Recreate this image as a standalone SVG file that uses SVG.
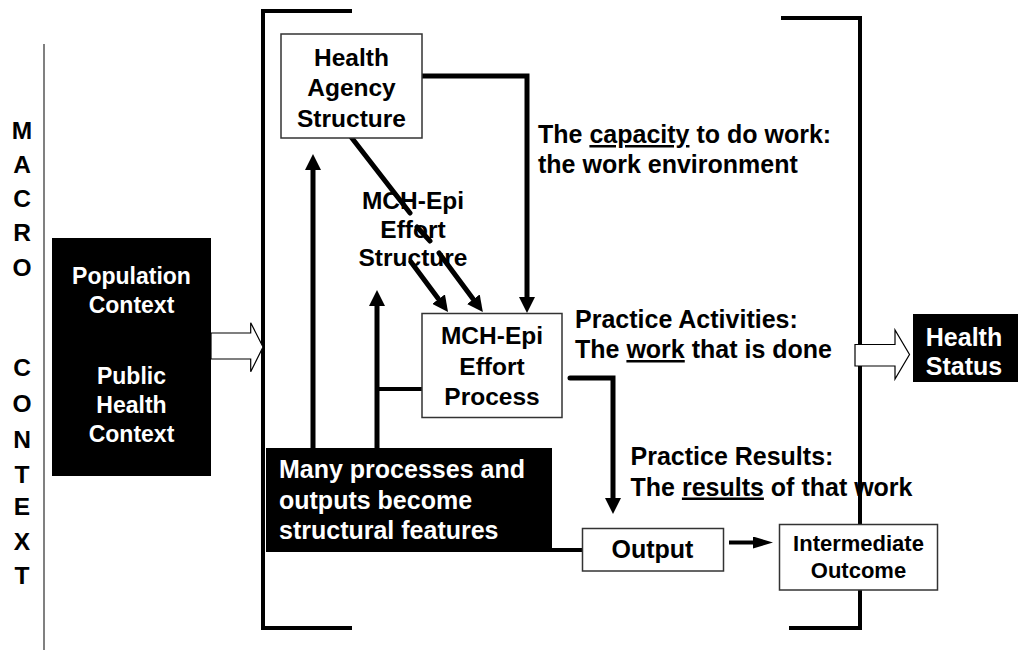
<svg xmlns="http://www.w3.org/2000/svg" width="1018" height="650" viewBox="0 0 1018 650">
  <style>
    text { font-family: "Liberation Sans", Arial, sans-serif; font-weight: bold; fill: #000; }
    .t25 { font-size: 25px; }
    .t24 { font-size: 24.5px; }
    .t23 { font-size: 23px; }
    .t22 { font-size: 22px; }
    .mid { text-anchor: middle; }
    .inv { fill: #fff; }
    .box { fill: #fff; stroke: #333; stroke-width: 1.5; }
    .blk { fill: #000; stroke: none; }
    .bracket { fill: none; stroke: #000; stroke-width: 4; }
    .conn { fill: none; stroke: #000; stroke-width: 5; stroke-linecap: round; stroke-linejoin: miter; }
    .thin { fill: none; stroke: #000; stroke-width: 4; }
    .hollow { fill: #fff; stroke: #000; stroke-width: 1.2; }
    .u { text-decoration: underline; }
  </style>
  <defs>
    <marker id="head" viewBox="0 -8 16 16" refX="0" refY="0" markerWidth="16" markerHeight="16" markerUnits="userSpaceOnUse" orient="auto">
      <path d="M0,-8 L16,0 L0,8 z" fill="#000"/>
    </marker>
    <marker id="headLong" viewBox="0 -6 20 12" refX="0" refY="0" markerWidth="20" markerHeight="12" markerUnits="userSpaceOnUse" orient="auto">
      <path d="M0,-6 L20,0 L0,6 z" fill="#000"/>
    </marker>
  </defs>

  <!-- macro context axis -->
  <g id="macro-context">
    <line x1="44" y1="44" x2="44" y2="650" stroke="#808080" stroke-width="2"/>
    <g class="t24 mid">
      <text x="22" y="139">M</text>
      <text x="22" y="173">A</text>
      <text x="22" y="207">C</text>
      <text x="22" y="241">R</text>
      <text x="22" y="276">O</text>
      <text x="22" y="376">C</text>
      <text x="22" y="412">O</text>
      <text x="22" y="448">N</text>
      <text x="22" y="483">T</text>
      <text x="22" y="515">E</text>
      <text x="22" y="550">X</text>
      <text x="22" y="584">T</text>
    </g>
  </g>

  <!-- brackets around the agency -->
  <g id="brackets">
    <path class="bracket" d="M352,11 H263 V628 H352"/>
    <path class="bracket" d="M781,18 H860 V628 H789"/>
  </g>

  <g id="population-context">
    <rect class="blk" x="52" y="238" width="159" height="238"/>
    <g class="t23 mid inv">
      <text class="inv" x="131.5" y="284">Population</text>
      <text class="inv" x="131.5" y="313">Context</text>
      <text class="inv" x="131.5" y="384">Public</text>
      <text class="inv" x="131.5" y="413">Health</text>
      <text class="inv" x="131.5" y="442">Context</text>
    </g>
  </g>

  <!-- connectors -->
  <g id="connectors">
    <polygon class="hollow" points="211,333 250.7,333 250.7,322.7 263,347 250.7,371.7 250.7,359 211,359"/>
    <path class="conn" d="M421,76 H527 V297" marker-end="url(#head)"/>
    <path class="conn" d="M341,124 L410,213 M417,227 L430,241 M439,253 L473.3,299.2" marker-end="url(#head)"/>
    <path class="conn" d="M411,262 L438.5,299.1" marker-end="url(#head)"/>
    <path class="conn" d="M313,448 V170" marker-end="url(#head)"/>
    <path class="conn" d="M377,448 V306" marker-end="url(#head)"/>
    <path class="thin" d="M422,389 H377"/>
    <path class="conn" d="M570,378 H613 V498" marker-end="url(#head)"/>
    <path class="thin" d="M552,550 H582"/>
    <path class="thin" d="M729,542.5 H753" marker-end="url(#headLong)"/>
    <polygon class="hollow" points="855,344.5 895,344.5 895,330 909.5,354.5 895,379 895,366 855,366"/>
  </g>

  <g id="health-agency-structure">
    <rect class="box" x="281" y="34" width="141" height="104"/>
    <g class="t24 mid">
      <text x="351.5" y="66">Health</text>
      <text x="351.5" y="96">Agency</text>
      <text x="351.5" y="127">Structure</text>
    </g>
  </g>

  <g id="effort-structure">
    <g class="t24 mid">
      <text x="413" y="209">MCH-Epi</text>
      <text x="413" y="238">Effort</text>
      <text x="413" y="266">Structure</text>
    </g>
  </g>

  <g id="effort-process">
    <rect class="box" x="422" y="313.5" width="140" height="104"/>
    <g class="t24 mid">
      <text x="492" y="344">MCH-Epi</text>
      <text x="492" y="375">Effort</text>
      <text x="492" y="405">Process</text>
    </g>
  </g>

  <g id="structural-features">
    <rect class="blk" x="266" y="448" width="286" height="104"/>
    <g class="t25">
      <text class="inv" x="279" y="478">Many processes and</text>
      <text class="inv" x="279" y="509">outputs become</text>
      <text class="inv" x="279" y="539">structural features</text>
    </g>
  </g>

  <g id="output">
    <rect class="box" x="582.5" y="528.5" width="141" height="42.5"/>
    <text class="t25 mid" x="652.5" y="558">Output</text>
  </g>

  <g id="intermediate-outcome">
    <rect class="box" x="779.5" y="524.5" width="158" height="65.5"/>
    <g class="t22 mid">
      <text x="858.5" y="551">Intermediate</text>
      <text x="858.5" y="578">Outcome</text>
    </g>
  </g>

  <g id="health-status">
    <rect class="blk" x="913" y="314" width="105" height="68"/>
    <g class="t25 mid">
      <text class="inv" x="964" y="346">Health</text>
      <text class="inv" x="964" y="375">Status</text>
    </g>
  </g>

  <g id="capacity-label" class="t25">
    <text x="538" y="143">The <tspan class="u">capacity</tspan> to do work:</text>
    <text x="538" y="172.5">the work environment</text>
  </g>

  <g id="activities-label" class="t25">
    <text x="575" y="328">Practice Activities:</text>
    <text x="575" y="358">The <tspan class="u">work</tspan> that is done</text>
  </g>

  <g id="results-label" class="t25">
    <text x="630.5" y="465">Practice Results:</text>
    <text x="630.5" y="495.5">The <tspan class="u">results</tspan> of that work</text>
  </g>
</svg>
